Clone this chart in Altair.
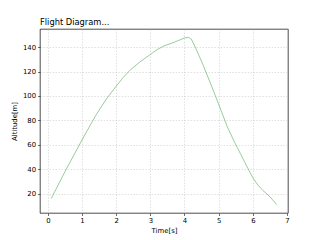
import altair as alt
import pandas as pd

time_s = [0.1, 0.5, 1.0, 1.2, 1.4, 1.7, 2.0, 2.2, 2.4, 2.7, 3.0, 3.2, 3.4, 3.7, 4.0, 4.12,
          4.2, 4.3, 4.55, 4.9, 5.25, 5.45, 5.65, 5.85, 6.0, 6.15, 6.3, 6.5, 6.7]
altitude_m = [16, 38, 64, 74, 84, 97, 108, 115, 121, 128, 134, 138, 141, 144, 147.5, 148,
              146.5, 141, 125, 100.5, 75, 63, 52, 41, 33, 27, 22.5, 17.5, 11]
x_ticks = [0, 1, 2, 3, 4, 5, 6, 7]
y_ticks = [20, 40, 60, 80, 100, 120, 140]

df = pd.DataFrame({"t": time_s, "alt": altitude_m})

FONT = "DejaVu Sans"

chart = alt.Chart(df).mark_line(color="#55aa55", strokeWidth=0.6).encode(
    x=alt.X("t:Q", scale=alt.Scale(domain=[-0.23, 7.03], nice=False, zero=False),
            axis=alt.Axis(values=x_ticks, title="Time[s]", format="d")),
    y=alt.Y("alt:Q", scale=alt.Scale(domain=[4.15, 154.85], nice=False, zero=False),
            axis=alt.Axis(values=y_ticks, title="Altitude[m]", format="d")),
).properties(
    width=248, height=184,
    title=alt.TitleParams("Flight Diagram...", anchor="start", frame="group",
                          fontSize=8.3, font=FONT, fontWeight="normal", color="black", offset=3),
    autosize=alt.AutoSizeParams(type="none"),
    padding={"left": 40, "top": 29, "right": 32, "bottom": 27},
).configure_view(
    stroke="black", strokeWidth=0.7
).configure_axis(
    labelFont=FONT, titleFont=FONT, labelFontSize=6.9, titleFontSize=6.9,
    labelColor="black", titleColor="black", titleFontWeight="normal",
    domain=False, tickColor="black", tickSize=2.4, tickWidth=0.6, labelPadding=2,
    grid=True, gridColor="#c0c0c0", gridWidth=0.5, gridDash=[1.5, 1.5],
).configure_axisX(
    titlePadding=4
).configure_axisY(
    titlePadding=5
)

chart.save("out.html", embed_options={"renderer": "svg", "actions": False})
